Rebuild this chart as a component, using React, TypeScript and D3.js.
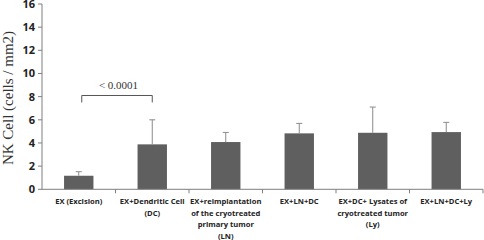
import React from "react";
import * as d3 from "d3";

const categories = [
  "EX (Excision)",
  "EX+Dendritic Cell (DC)",
  "EX+reimplantation of the cryotreated primary tumor (LN)",
  "EX+LN+DC",
  "EX+DC+ Lysates of cryotreated tumor (Ly)",
  "EX+LN+DC+Ly",
];
const categoryLines = [
  ["EX (Excision)"],
  ["EX+Dendritic Cell", "(DC)"],
  ["EX+reimplantation", "of the cryotreated", "primary tumor", "(LN)"],
  ["EX+LN+DC"],
  ["EX+DC+ Lysates of", "cryotreated tumor", "(Ly)"],
  ["EX+LN+DC+Ly"],
];
const means = [1.17, 3.88, 4.08, 4.83, 4.88, 4.94];
const errors = [0.35, 2.12, 0.83, 0.86, 2.22, 0.84];
const yTicks = [0, 2, 4, 6, 8, 10, 12, 14, 16];
const yLabel = "NK Cell (cells / mm2)";
const sigLabel = "< 0.0001";

export default function App() {
  const W = 484, H = 240;
  const left = 42, right = 483, top = 4, bottom = 189.3;
  const x = d3.scaleBand<string>().domain(categories).range([left, right]).paddingInner(0.6).paddingOuter(0.3);
  const xb = d3.scaleBand<string>().domain(categories).range([left, right]);
  const y = d3.scaleLinear().domain([0, 16]).range([bottom, top]);
  const bw = x.bandwidth();
  const barColor = "#5f5f5f";
  const errColor = "#8a8a8a";
  const axisColor = "#7f7f7f";
  const c0 = categories[0], c1 = categories[1];
  const bx0 = (x(c0) as number) + bw / 2;
  const bx1 = (x(c1) as number) + bw / 2;
  return (
    <svg width={W} height={H} style={{ position: "absolute", left: 0, top: 0, background: "#fff" }}>
      {categories.map((c, i) => {
        const x0 = x(c) as number;
        const cx = x0 + bw / 2;
        const yt = y(means[i]);
        const ye = y(means[i] + errors[i]);
        return (
          <g key={c}>
            <rect x={x0} y={yt} width={bw} height={bottom - yt} fill={barColor} />
            <line x1={cx} x2={cx} y1={yt} y2={ye} stroke={errColor} strokeWidth={1} />
            <line x1={cx - 3} x2={cx + 3} y1={ye} y2={ye} stroke={errColor} strokeWidth={1} />
          </g>
        );
      })}
      {/* axes */}
      <line x1={left} x2={left} y1={top} y2={bottom} stroke={axisColor} strokeWidth={1} />
      <line x1={left} x2={right} y1={bottom} y2={bottom} stroke={axisColor} strokeWidth={1} />
      {yTicks.map((t) => (
        <g key={t}>
          <line x1={left - 4} x2={left} y1={y(t)} y2={y(t)} stroke={axisColor} />
          <text x={left - 7} y={y(t) + 4} textAnchor="end" fontFamily="'Open Sans', sans-serif" fontWeight="bold" fontSize={11} fill="#222">
            {t}
          </text>
        </g>
      ))}
      {categories.map((c, i) => (
        <line key={"t" + i} x1={(xb(c) as number) + xb.bandwidth()} x2={(xb(c) as number) + xb.bandwidth()} y1={bottom} y2={bottom + 4} stroke={axisColor} />
      ))}
      {categories.map((c, i) => {
        const cx = (xb(c) as number) + xb.bandwidth() / 2;
        return (
          <text key={"l" + i} textAnchor="middle" fontFamily="'Open Sans', sans-serif" fontWeight="bold" fontSize={7.6} fill="#222">
            {categoryLines[i].map((ln, j) => (
              <tspan key={j} x={cx} y={204 + j * 11.7}>{ln}</tspan>
            ))}
          </text>
        );
      })}
      <text transform={`translate(13, 98) rotate(-90)`} textAnchor="middle" fontFamily="'Liberation Serif', 'Times New Roman', serif" fontSize={15} fill="#333">
        {yLabel}
      </text>
      {/* significance bracket */}
      <path d={`M${bx0 + 3},${y(7.5)} V${y(8.1)} H${bx1} V${y(7.5)}`} fill="none" stroke="#555" strokeWidth={1} />
      <text x={(bx0 + bx1) / 2 + 3} y={y(8.1) - 6} textAnchor="middle" fontFamily="'Liberation Serif', 'Times New Roman', serif" fontSize={11} fill="#333">
        {sigLabel}
      </text>
    </svg>
  );
}
